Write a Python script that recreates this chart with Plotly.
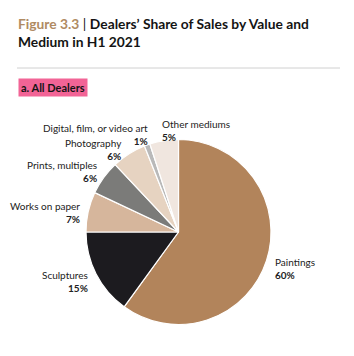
import plotly.graph_objects as go

labels = ["Paintings", "Sculptures", "Works on paper", "Prints, multiples",
          "Photography", "Digital, film, or video art", "Other mediums"]
values = [60, 15, 7, 6, 6, 1, 5]
colors = ["#b2845b", "#1c1b1f", "#d6b69c", "#7b7b79", "#e6d3c1", "#b9b9b9", "#f0e6df"]

W, H = 354, 356

def px(x):
    return x / W

def py(y):
    return 1 - y / H

fig = go.Figure()
fig.add_trace(go.Pie(
    labels=labels, values=values, sort=False, direction="clockwise", rotation=0,
    marker=dict(colors=colors, line=dict(color="white", width=1.2)),
    textinfo="none", hoverinfo="label+percent", showlegend=False,
    domain=dict(x=[px(86), px(271)], y=[py(325), py(139)]),
))

FONT = "Lato"
# label positions: (x, y of first line center, anchor)
label_pos = {
    "Paintings": (273, 260, "left"),
    "Sculptures": (90, 273, "right"),
    "Works on paper": (82, 204, "right"),
    "Prints, multiples": (99, 163, "right"),
    "Photography": (124, 141, "right"),
    "Digital, film, or video art": (150, 126, "right"),
    "Other mediums": (160, 122, "left"),
}
for lab, val in zip(labels, values):
    x, y, anc = label_pos[lab]
    fig.add_annotation(
        x=px(x), y=py(y - 6.5), xref="paper", yref="paper",
        xanchor=anc, yanchor="top", align=anc, showarrow=False,
        text=f"{lab}<br><b>{val}%</b>",
        font=dict(family=FONT, size=10, color="#222222"),
    )

# title
fig.add_annotation(
    x=px(16), y=py(13), xref="paper", yref="paper", xanchor="left", yanchor="top",
    align="left", showarrow=False,
    text="<b><span style='color:#b08b63'>Figure 3.3</span></b> | <b>Dealers’ Share of Sales by Value and<br>Medium in H1 2021</b>",
    font=dict(family=FONT, size=13.8, color="#141414"),
)
# separator line
fig.add_shape(type="line", xref="paper", yref="paper",
              x0=px(17), x1=px(340), y0=py(68), y1=py(68),
              line=dict(color="#d0d0d0", width=1))
# subtitle box
fig.add_annotation(
    x=px(18), y=py(87.5), xref="paper", yref="paper", xanchor="left", yanchor="middle",
    showarrow=False, text="<b>a. All Dealers</b>",
    font=dict(family=FONT, size=11, color="#141414"),
    bgcolor="#f26496", borderpad=2,
)

fig.update_layout(
    width=W, height=H, margin=dict(l=0, r=0, t=0, b=0),
    paper_bgcolor="white", plot_bgcolor="white",
)
fig.write_html("out.html")
